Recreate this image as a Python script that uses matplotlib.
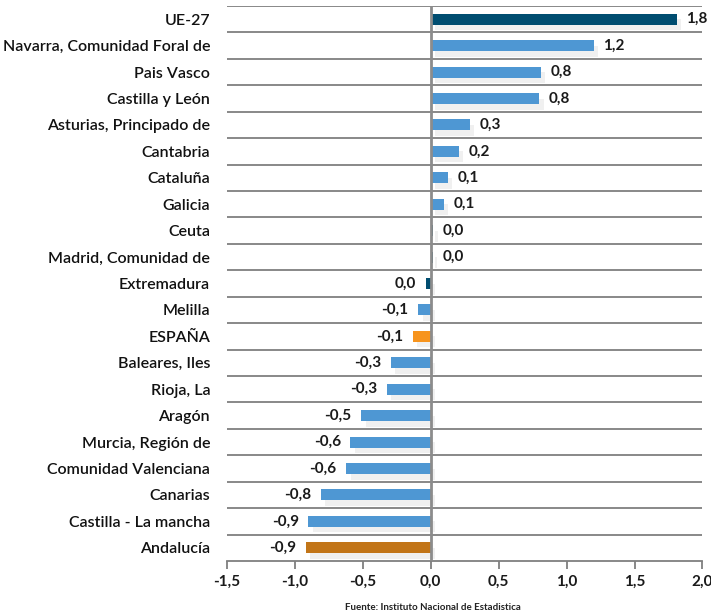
import numpy as np
import matplotlib
matplotlib.use("Agg")
import matplotlib.pyplot as plt
import matplotlib.patheffects as pe

regions = ["UE-27", "Navarra, Comunidad Foral de", "Pais Vasco", "Castilla y León",
           "Asturias, Principado de", "Cantabria", "Cataluña", "Galicia", "Ceuta",
           "Madrid, Comunidad de", "Extremadura", "Melilla", "ESPAÑA", "Baleares, Iles",
           "Rioja, La", "Aragón", "Murcia, Región de", "Comunidad Valenciana",
           "Canarias", "Castilla - La mancha", "Andalucía"]
values = [1.81, 1.20, 0.81, 0.80, 0.29, 0.21, 0.13, 0.10, 0.02, 0.015, -0.035,
          -0.09, -0.13, -0.29, -0.32, -0.51, -0.59, -0.62, -0.81, -0.90, -0.92]
shown = ["1,8", "1,2", "0,8", "0,8", "0,3", "0,2", "0,1", "0,1", "0,0", "0,0", "0,0",
         "-0,1", "-0,1", "-0,3", "-0,3", "-0,5", "-0,6", "-0,6", "-0,8", "-0,9", "-0,9"]
xticks = [-1.5, -1.0, -0.5, 0.0, 0.5, 1.0, 1.5, 2.0]
xtick_labels = ["-1,5", "-1,0", "-0,5", "0,0", "0,5", "1,0", "1,5", "2,0"]

dark = "#004d70"
blue = "#4e97d3"
colors = [dark] + [blue] * 7 + [dark, dark, dark, blue, "#f7941d"] + [blue] * 7 + ["#c27518"]

plt.rcParams['font.family'] = ['Lato', 'DejaVu Sans']

fig = plt.figure(figsize=(7.11, 6.14), dpi=100)
ax = fig.add_axes([0.319, 0.0863, 0.669, 0.9039])

y = np.arange(len(regions))
shadow = [pe.SimplePatchShadow(offset=(3, -4), shadow_rgbFace="#b0b0b0", alpha=0.18), pe.Normal()]
bars = ax.barh(y, values, height=0.42, color=colors, zorder=3)
for b in bars:
    b.set_path_effects(shadow)

for yi, v, s in zip(y, values, shown):
    if v >= 0:
        ax.annotate(s, (v, yi), xytext=(7, 0), textcoords="offset points",
                    ha="left", va="center", fontsize=11, fontweight="bold", color="#1a1a1a")
    else:
        ax.annotate(s, (v, yi), xytext=(-7, 0), textcoords="offset points",
                    ha="right", va="center", fontsize=11, fontweight="bold", color="#1a1a1a")

for yb in np.arange(-0.5, len(regions) - 1, 1.0):
    ax.axhline(yb, color="#7f7f7f", lw=1.3, zorder=1)
ax.axvline(0, color="#8c8c8c", lw=2, zorder=4)

ax.set_xlim(-1.5, 2.0)
ax.set_ylim(len(regions) - 0.5, -0.5)
ax.set_xticks(xticks)
ax.set_xticklabels(xtick_labels, fontsize=11, fontweight="bold", color="#1a1a1a")
ax.set_yticks(y)
ax.set_yticklabels(regions, fontsize=11.5, fontweight="semibold", color="#111111")
ax.tick_params(axis="y", length=0, pad=12)
ax.tick_params(axis="x", length=6, width=1.3, color="#7f7f7f", pad=4)

for side in ["left", "right", "top"]:
    ax.spines[side].set_visible(False)
ax.spines["bottom"].set_color("#7f7f7f")
ax.spines["bottom"].set_linewidth(1.3)

fig.text(0.609, 0.0114, "Fuente: Instituto Nacional de Estadistica", ha="center",
         va="center", fontsize=7, fontweight="bold", color="#222222")

fig.savefig("out.png", dpi=100)
